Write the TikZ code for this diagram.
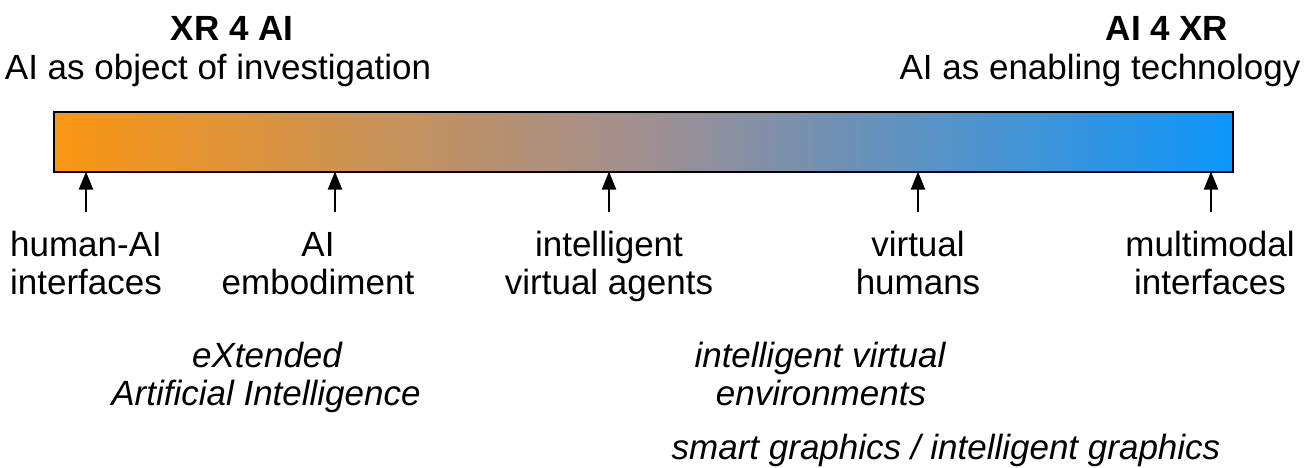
\documentclass[tikz,border=0pt]{standalone}
\usepackage{fontspec}
\setmainfont{Liberation Sans}
\usetikzlibrary{arrows.meta}
\definecolor{barorange}{RGB}{250,150,18}
\definecolor{bargray}{RGB}{160,143,145}
\definecolor{barblue}{RGB}{14,150,252}
\tikzset{
  lbl/.style={anchor=base, inner sep=0pt, font=\fontsize{35}{40}\selectfont},
  ttl/.style={lbl, font=\fontsize{35}{40}\selectfont\bfseries},
  itl/.style={lbl, font=\fontsize{35}{40}\selectfont\itshape},
  uparrow/.style={-{Triangle[length=18pt,width=14pt]}, line width=2pt, shorten >=-0.5pt},
}
\begin{document}
\begin{tikzpicture}[x=1pt,y=-1pt]
\useasboundingbox (0,0) rectangle (1306,467);
% titles
\node[ttl] (t1) at (232,40) {XR 4 AI};
\node[lbl] (t1s) at (218,79) {AI as object of investigation};
\node[ttl] (t2) at (1167,40) {AI 4 XR};
\node[lbl] (t2s) at (1100,79) {AI as enabling technology};
% bar
\shade[left color=barorange, right color=barblue, middle color=bargray] (54,112) rectangle (1233,172);
\draw[line width=2pt] (54,112) rectangle (1233,172);
\coordinate (b1) at (86,172);
\coordinate (b2) at (335,172);
\coordinate (b3) at (609,172);
\coordinate (b4) at (918,172);
\coordinate (b5) at (1211,172);
\coordinate (s1) at (86,212);
\coordinate (s2) at (335,212);
\coordinate (s3) at (609,212);
\coordinate (s4) at (918,212);
\coordinate (s5) at (1211,212);
\foreach \i in {1,...,5} {\draw[uparrow] (s\i) -- (b\i);}
% labels
\node[lbl] (l1a) at (86,256) {human-AI};
\node[lbl] (l1b) at (86,294) {interfaces};
\node[lbl] (l2a) at (318,256) {AI};
\node[lbl] (l2b) at (318,294) {embodiment};
\node[lbl] (l3a) at (609,256) {intelligent};
\node[lbl] (l3b) at (609,294) {virtual agents};
\node[lbl] (l4a) at (918,256) {virtual};
\node[lbl] (l4b) at (918,294) {humans};
\node[lbl] (l5a) at (1210,256) {multimodal};
\node[lbl] (l5b) at (1210,294) {interfaces};
% italic notes
\node[itl] (n1a) at (267,367) {eXtended};
\node[itl] (n1b) at (266,405) {Artificial Intelligence};
\node[itl] (n2a) at (820,367) {intelligent virtual};
\node[itl] (n2b) at (821,405) {environments};
\node[itl] (n3) at (946,459) {smart graphics / intelligent graphics};
\end{tikzpicture}
\end{document}
